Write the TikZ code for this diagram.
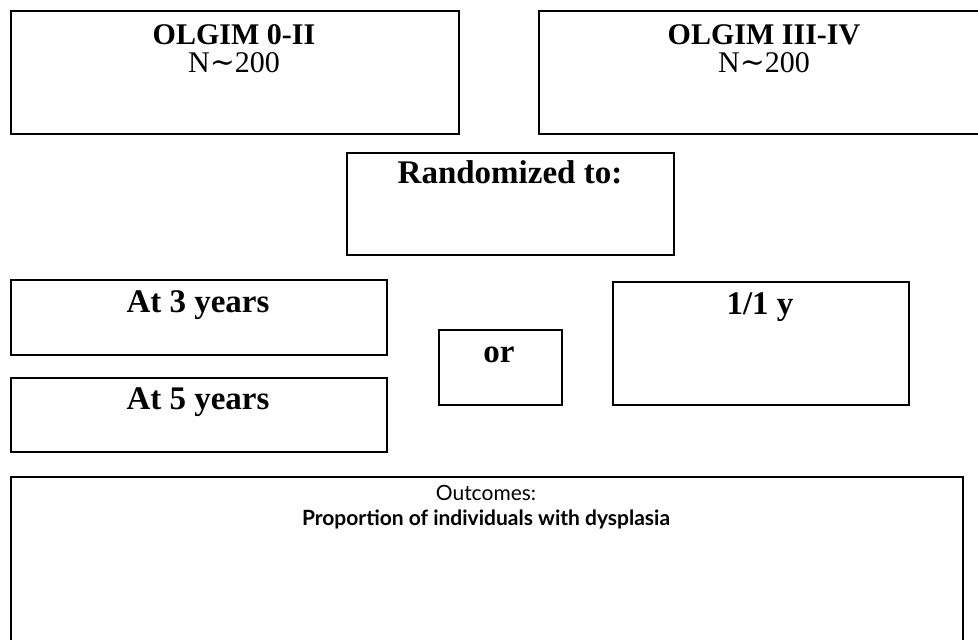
\documentclass[tikz,border=0pt]{standalone}
\usepackage{fontspec}
\setmainfont{Liberation Serif}
\newfontfamily\outfont{Lato}
\newfontfamily\symfont{DejaVu Serif}
\newcommand{\simglyph}{{\symfont\char"223C}}
\begin{document}
\begin{tikzpicture}[x=1pt,y=1pt,
  box/.style={draw=black, line width=1.6pt, rectangle, inner sep=0pt, anchor=north west},
  bt/.style={anchor=base, inner sep=0pt, font=\fontsize{33}{33}\selectfont\bfseries},
  ht/.style={anchor=base, inner sep=0pt, text depth=0pt, font=\fontsize{30}{30}\selectfont\bfseries},
  rt/.style={anchor=base, inner sep=0pt, text height=20pt, font=\fontsize{30}{30}\selectfont},
  ot/.style={anchor=base, inner sep=0pt, text depth=0pt, font=\fontsize{21}{21}\selectfont\outfont},
  obt/.style={anchor=base, inner sep=0pt, text height=14pt, font=\fontsize{21}{21}\selectfont\outfont\bfseries}]
\useasboundingbox (0,0) rectangle (978,-640);
% boxes
\node[box, minimum width=448pt, minimum height=123pt] (b1) at (10,-10) {};
\node[box, minimum width=452pt, minimum height=123pt] (b2) at (538,-10) {};
\node[box, minimum width=327pt, minimum height=102pt] (br) at (346,-152) {};
\node[box, minimum width=376pt, minimum height=75pt] (b3) at (10,-279) {};
\node[box, minimum width=376pt, minimum height=74pt] (b5) at (10,-377) {};
\node[box, minimum width=123pt, minimum height=75pt] (bor) at (438,-329) {};
\node[box, minimum width=296pt, minimum height=123pt] (b11) at (612,-281) {};
\node[box, minimum width=952pt, minimum height=190pt] (bout) at (10,-476) {};
% texts
\node[ht] (t1a) at (234,-44) {OLGIM 0-II};
\node[rt] (t1b) at (234,-72) {N\simglyph200};
\node[ht] (t2a) at (764,-44) {OLGIM III-IV};
\node[rt] (t2b) at (764,-72) {N\simglyph200};
\node[bt] (tr) at (510,-183) {Randomized to:};
\node[bt] (t3) at (198,-312) {At 3 years};
\node[bt] (t5) at (198,-409) {At 5 years};
\node[bt] (tor) at (499,-362) {or};
\node[bt] (t11) at (760,-314) {1/1 y};
\node[ot] (to1) at (486,-500) {Outcomes:};
\node[obt] (to2) at (486,-525) {Proportion of individuals with dysplasia};
\end{tikzpicture}
\end{document}
